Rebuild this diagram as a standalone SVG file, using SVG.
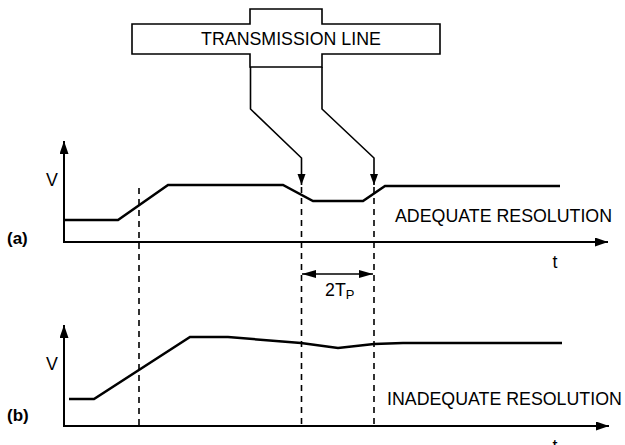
<svg xmlns="http://www.w3.org/2000/svg" width="625" height="445" viewBox="0 0 625 445">
  <style>
    .txt { font-family: "Liberation Sans", Arial, sans-serif; font-size: 17.8px; fill: #000; }
    .lbl { font-family: "Liberation Sans", Arial, sans-serif; font-size: 17px; font-weight: bold; fill: #000; }
    .axis { fill: none; stroke: #000; stroke-width: 2; }
    .sig { fill: none; stroke: #000; stroke-width: 2.5; stroke-linejoin: miter; }
    .conn { fill: none; stroke: #000; stroke-width: 1.6; }
    .dash { fill: none; stroke: #000; stroke-width: 1.6; stroke-dasharray: 6 5; }
    .box { fill: #fff; stroke: #000; stroke-width: 1.6; }
  </style>
  <defs>
    <marker id="axArrow" markerUnits="userSpaceOnUse" markerWidth="14" markerHeight="10" refX="13" refY="4.5" orient="auto">
      <path d="M0,0 L13,4.5 L0,9 z" fill="#000"/>
    </marker>
    <marker id="cArrow" markerUnits="userSpaceOnUse" markerWidth="12" markerHeight="10" refX="11" refY="4" orient="auto">
      <path d="M0,0 L11,4 L0,8 z" fill="#000"/>
    </marker>
    <marker id="dArrow" markerUnits="userSpaceOnUse" markerWidth="15" markerHeight="10" refX="14" refY="4" orient="auto-start-reverse">
      <path d="M0,0 L14,4 L0,8 z" fill="#000"/>
    </marker>
  </defs>

  <g id="transmission-line">
    <path class="box" d="M132,24 H250 V9 H322 V24 H440 V54 H322 V67 H250 V54 H132 Z"/>
    <text class="txt" x="291" y="45" text-anchor="middle">TRANSMISSION LINE</text>
  </g>

  <g id="connectors">
    <path class="conn" d="M250.5,67 V109 L301.5,158 V185" marker-end="url(#cArrow)"/>
    <path class="conn" d="M322,67 V109 L374,158 V185" marker-end="url(#cArrow)"/>
    <path class="dash" d="M139,188 V426"/>
    <path class="dash" d="M301.5,187 V426"/>
    <path class="dash" d="M374,187 V426"/>
    <path class="conn" d="M302,274 H373" marker-start="url(#dArrow)" marker-end="url(#dArrow)"/>
  </g>

  <g id="plot-a">
    <path class="axis" d="M64,242 V141" marker-end="url(#axArrow)"/>
    <path class="axis" d="M63,242 H608" marker-end="url(#axArrow)"/>
    <path class="sig" d="M64,220 H118 L168,185 H283 L313,201 H363 L385,186 H560"/>
    <text class="txt" x="52" y="186" text-anchor="middle">V</text>
    <text class="txt" x="555" y="268" text-anchor="middle">t</text>
    <text class="txt" x="395" y="222">ADEQUATE RESOLUTION</text>
    <text class="lbl" x="7" y="244">(a)</text>
  </g>

  <g id="timing-label">
    <text class="txt" x="325" y="296">2T<tspan font-size="13" dy="3">P</tspan></text>
  </g>

  <g id="plot-b">
    <path class="axis" d="M64,426 V325" marker-end="url(#axArrow)"/>
    <path class="axis" d="M63,426 H609" marker-end="url(#axArrow)"/>
    <path class="sig" d="M69,399 H94 L190,337 H228 L301,343 L338,348 L374,344 L403,343 H562"/>
    <text class="txt" x="52" y="370" text-anchor="middle">V</text>
    <text class="txt" x="555" y="452" text-anchor="middle">t</text>
    <text class="txt" x="387" y="405">INADEQUATE RESOLUTION</text>
    <text class="lbl" x="7" y="421">(b)</text>
  </g>
</svg>
